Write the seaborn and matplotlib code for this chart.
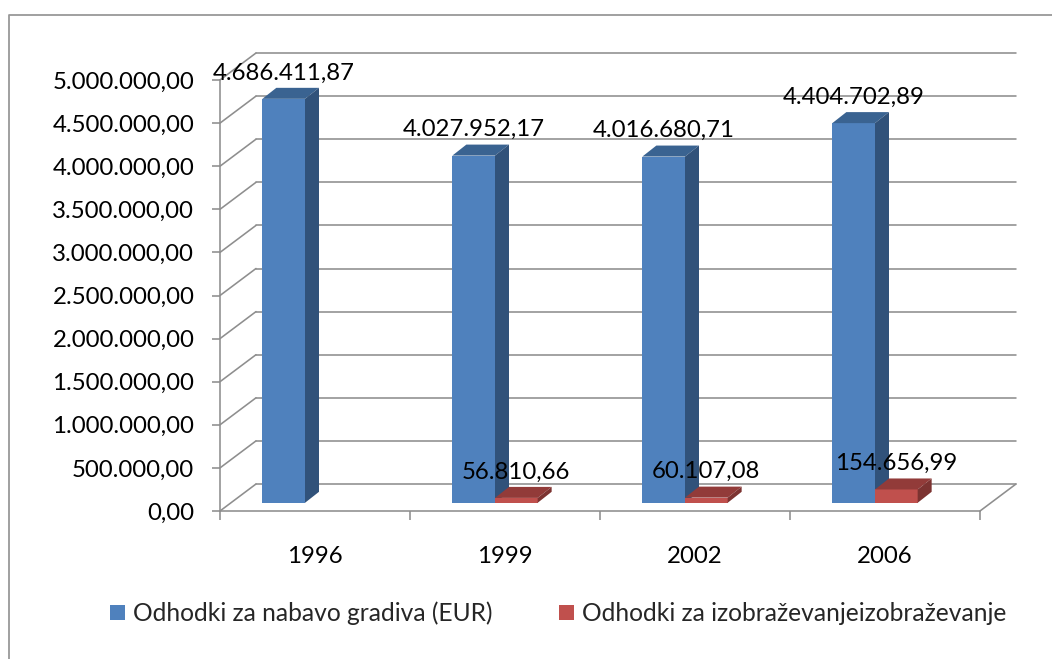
import matplotlib
matplotlib.use("Agg")
import matplotlib.pyplot as plt
import pandas as pd
import seaborn as sns
from matplotlib.lines import Line2D
from matplotlib.patches import Polygon
from matplotlib.transforms import Affine2D

years = ["1996", "1999", "2002", "2006"]
series_names = ["Odhodki za nabavo gradiva (EUR)", "Odhodki za izobraževanjeizobraževanje"]
nabava = [4686411.87, 4027952.17, 4016680.71, 4404702.89]
izobrazevanje = [None, 56810.66, 60107.08, 154656.99]
y_ticks = [0, 500000, 1000000, 1500000, 2000000, 2500000, 3000000, 3500000, 4000000, 4500000, 5000000]
blue_shades = ["#4F81BD", "#3A6391", "#31527A"]
red_shades = ["#C0504D", "#923B39", "#7C3331"]
GRID = "#8E8E8E"
W, H = 1052, 659


def eu(v):
    return f"{v:,.2f}".replace(",", "#").replace(".", ",").replace("#", ".")


sns.set_theme(style="white")
plt.rcParams["font.family"] = ["Lato", "DejaVu Sans"]
FS = 17.3
LEG_FS = 17.77

df = pd.DataFrame({
    "Leto": years * 2,
    "Serija": [series_names[0]] * 4 + [series_names[1]] * 4,
    "Vrednost": pd.to_numeric(pd.Series(nabava + izobrazevanje), errors="coerce"),
})

fig = plt.figure(figsize=(W / 100, H / 100), dpi=100, facecolor="white")
ax = fig.add_axes([220 / W, 1 - 511 / H, 760 / W, 431 / H])
sns.barplot(data=df, x="Leto", y="Vrednost", hue="Serija", order=years, hue_order=series_names,
            palette=[blue_shades[0], red_shades[0]], width=0.449, gap=0, saturation=1,
            errorbar=None, ax=ax, zorder=3, linewidth=0)
ax.set_xlim(-0.5, 3.5)
ax.set_ylim(0, 5000000)
ax.set_xlabel("")
ax.set_ylabel("")
ax.patch.set_visible(False)

# pixel offsets of the pseudo-3D planes, relative to the front axis plane
wall = Affine2D().translate(36, 27)
bar_plane = Affine2D().translate(-10, 8.2)
depth = (14, 11)
lw = 1.15

for sp in ("top", "right"):
    ax.spines[sp].set_visible(False)
for sp in ("left", "bottom"):
    ax.spines[sp].set_color(GRID)
    ax.spines[sp].set_linewidth(lw)
ax.set_yticks(y_ticks)
ax.set_yticklabels([eu(v) for v in y_ticks])
ax.set_xticks([-0.5, 0.5, 1.5, 2.5, 3.5], minor=True)
ax.tick_params(axis="x", which="minor", direction="out", length=6.5, width=lw, color=GRID, bottom=True)
ax.tick_params(axis="x", which="major", length=0, labelsize=FS, pad=25.5, labelcolor="black")
ax.tick_params(axis="y", direction="out", length=6, width=lw, color=GRID, left=True,
               labelsize=FS, pad=12.5, labelcolor="black")

# back wall grid and side-wall diagonals
for v in y_ticks:
    ax.plot([-0.5, 3.5], [v, v], color=GRID, lw=lw, transform=ax.transData + wall, clip_on=False, zorder=1)
    x0, y0 = ax.transData.transform((-0.5, v))
    ax.add_line(Line2D([x0, x0 + 36], [y0, y0 + 27], color=GRID, lw=lw, transform=None, clip_on=False, zorder=1))
x1, y1 = ax.transData.transform((3.5, 0))
ax.add_line(Line2D([x1, x1 + 36], [y1, y1 + 27], color=GRID, lw=lw, transform=None, clip_on=False, zorder=1))

# extrude the seaborn bars into pseudo-3D boxes and label them
for i, (container, shades) in enumerate(zip(ax.containers, (blue_shades, red_shades))):
    z = 3 + i
    for bar in container:
        h = bar.get_height()
        if not h or h != h:
            continue
        tr = ax.transData + bar_plane
        bar.set_transform(tr)
        bar.set_clip_on(False)
        bar.set_zorder(z)
        (xa, ya), (xb, yb) = tr.transform([(bar.get_x(), 0), (bar.get_x() + bar.get_width(), h)])
        dx, dy = depth
        ax.add_patch(Polygon([(xa, yb), (xb, yb), (xb + dx, yb + dy), (xa + dx, yb + dy)], closed=True,
                             facecolor=shades[1], edgecolor="none", transform=None, clip_on=False, zorder=z + 0.1))
        ax.add_patch(Polygon([(xb, ya), (xb + dx, ya + dy), (xb + dx, yb + dy), (xb, yb)], closed=True,
                             facecolor=shades[2], edgecolor="none", transform=None, clip_on=False, zorder=z + 0.1))
        ax.annotate(eu(h), xy=((xa + xb) / 2, yb), xycoords="figure pixels", xytext=(0, 18.7),
                    textcoords="offset points", ha="center", va="center", fontsize=FS, color="black",
                    annotation_clip=False, zorder=6)

sns.move_legend(ax, "center left", bbox_to_anchor=(110 / W, 1 - 613.5 / H),
                bbox_transform=fig.transFigure, ncol=2, frameon=False, title=None, fontsize=LEG_FS,
                handlelength=0.62, handleheight=0.6, handletextpad=0.33, columnspacing=2.66, borderpad=0, borderaxespad=0)

# chart area border (top and left edges)
fig.add_artist(Line2D([8.5 / W, 8.5 / W, 1], [0, 1 - 14.5 / H, 1 - 14.5 / H], color="#989898", lw=1.3,
                      transform=fig.transFigure))

fig.savefig("out.png", dpi=100, facecolor="white")
